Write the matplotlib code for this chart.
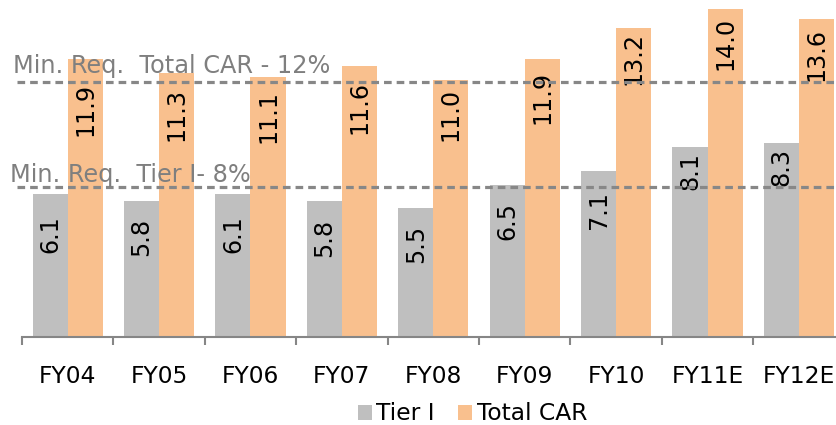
import matplotlib
matplotlib.use('Agg')
import matplotlib.pyplot as plt

plt.rcParams['font.family'] = ['DejaVu Sans']
plt.rcParams['lines.scale_dashes'] = False

# data
years = ['FY04', 'FY05', 'FY06', 'FY07', 'FY08', 'FY09', 'FY10', 'FY11E', 'FY12E']
tier1 = [6.1, 5.8, 6.1, 5.8, 5.5, 6.5, 7.1, 8.1, 8.3]
total_car = [11.9, 11.3, 11.1, 11.6, 11.0, 11.9, 13.2, 14.0, 13.6]

# where the dashed "minimum requirement" lines sit on the value scale
car_line = 10.9
tier_line = 6.41
car_text = 'Min. Req.  Total CAR - 12%'
tier_text = 'Min. Req.  Tier I- 8%'

# gap (px) between bar top and its label, as placed in the original
tier_gap = [21, 17, 21, 18, 17, 17, 20, 5, 5]
car_gap = [24, 15, 13, 15, 8, 12, 4, 7, 9]

GRAY = '#bfbfbf'
ORANGE = '#f9c08e'
LINE = '#878787'
FS = 16.8

W, H = 837, 425
fig = plt.figure(figsize=(W / 100, H / 100), dpi=100)
ax = fig.add_axes([22 / W, 88 / H, 822.6 / W, 337 / H])

x = list(range(len(years)))
bw = 0.383
xs_t = [i - bw / 2 for i in x]
xs_c = [i + bw / 2 for i in x]
ax.bar(xs_t, tier1, width=bw, color=GRAY, label='Tier I')
ax.bar(xs_c, total_car, width=bw, color=ORANGE, label='Total CAR')

for xi, v, g in zip(xs_t, tier1, tier_gap):
    ax.annotate('%.1f' % v, (xi, v), xytext=(0, -g), textcoords='offset pixels',
                rotation=90, ha='center', va='top', fontsize=17.2, color='black')
for xi, v, g in zip(xs_c, total_car, car_gap):
    ax.annotate('%.1f' % v, (xi, v), xytext=(0, -g), textcoords='offset pixels',
                rotation=90, ha='center', va='top', fontsize=17.2, color='black')

x0 = -0.5 - 5 / 91.4
for lvl in (car_line, tier_line):
    ax.plot([x0, 9], [lvl, lvl], color=LINE, lw=2.3, dashes=(5.5, 3.6),
            clip_on=False, zorder=3)

fig.text(13 / W, 1 - 73 / H, car_text, fontsize=17.3, color='#7f7f7f', va='baseline')
fig.text(10 / W, 1 - 182 / H, tier_text, fontsize=17.3, color='#7f7f7f', va='baseline')

ax.set_xlim(-0.5, 8.5)
ax.set_ylim(0, 337 / 23.4)
for s in ('top', 'right', 'left'):
    ax.spines[s].set_visible(False)
ax.spines['bottom'].set_color('#868686')
ax.spines['bottom'].set_linewidth(1.5)
ax.set_yticks([])

ax.set_xticks([i - 0.5 for i in range(len(years) + 1)])
ax.set_xticklabels([])
ax.tick_params(axis='x', which='major', length=6, width=1.5, color='#868686')
ax.set_xticks(x, minor=True)
ax.set_xticklabels(years, minor=True, fontsize=FS)
ax.tick_params(axis='x', which='minor', length=0, pad=20)

fig.legend(loc='center', bbox_to_anchor=(472.5 / W, 11 / H), ncol=2, frameon=False,
           fontsize=FS, handlelength=0.6, handleheight=0.6, handletextpad=0.2,
           columnspacing=1.0, borderpad=0, borderaxespad=0)

fig.savefig('out.png', dpi=100)
